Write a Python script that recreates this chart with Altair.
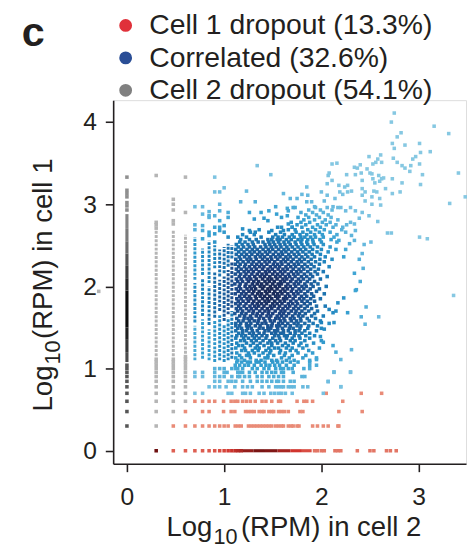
import altair as alt
import pandas as pd

INK = "#231f20"
FONT = "Liberation Sans"

# ---------------- text ----------------
legend_labels = ["Cell 1 dropout (13.3%)", "Correlated (32.6%)", "Cell 2 dropout (54.1%)"]
legend_colors = ["#e0313a", "#2a4e96", "#808080"]
panel_label = "c"
x_title = ["Log", "10", "(RPM) in cell 2"]
y_title = ["Log", "10", "(RPM) in cell 1"]
x_ticks = [0, 1, 2, 3]
y_ticks = [0, 1, 2, 3, 4]

# ---------------- gray: cell 2 dropout ----------------
# (log10 RPM in cell 2, [log10 RPM in cell 1, ...]) single points
gray_points = [
    (0.0,   [0.301, 0.477, 0.602, 0.699, 0.778, 0.845, 0.903, 0.954, 1.0, 1.041,
             2.93, 2.98, 3.02, 3.09, 3.13, 3.17, 3.33]),
    (0.301, [0.301, 0.477, 0.602, 0.699, 0.778, 0.845, 0.903, 0.954, 1.0, 1.041, 1.079, 1.114,
             2.71, 2.75, 2.78, 3.35]),
    (0.477, [0.477, 0.602, 0.699, 0.778, 0.845, 0.903, 0.954, 1.0, 1.041, 1.079, 1.114,
             2.76, 2.80, 2.93, 3.0, 3.06]),
    (0.602, [0.602, 0.699, 0.778, 0.845, 0.903, 0.954, 1.0, 1.041, 1.079, 1.114, 1.146,
             2.90, 3.33]),
    (-0.29, [1.94]),
]
# dense stretches of the gray columns
gray_strip_x  = [0.0, 0.0, 0.0, 0.0, 0.0, 0.0, 0.0, 0.0, 0.0, 0.0, 0.301, 0.477, 0.602]
gray_strip_y0 = [1.079, 1.20, 1.35, 1.50, 1.95, 2.10, 2.25, 2.40, 2.55, 2.70, 1.15, 1.15, 1.18]
gray_strip_y1 = [1.20, 1.35, 1.50, 1.95, 2.10, 2.25, 2.40, 2.55, 2.70, 2.88, 2.70, 2.68, 2.63]

# ---------------- red: cell 1 dropout ----------------
# (log10 RPM in cell 1, [log10 RPM in cell 2, ...])
red_rows = [
    (0.0,   [0.301, 0.477, 0.602, 0.699, 0.778, 0.845, 0.903, 0.954, 1.0, 1.041, 1.079, 1.114,
             1.146, 1.176, 1.93, 1.96, 2.00, 2.03, 2.14, 2.17, 2.20, 2.37, 2.50, 2.54, 2.67,
             2.71, 2.77]),
    (0.301, [0.477, 0.602, 0.699, 0.778, 0.845, 0.903, 0.954, 1.0, 1.041, 1.114, 1.146, 1.176,
             1.25, 1.28, 1.31, 1.34, 1.37, 1.40, 1.43, 1.46, 1.49, 1.53, 1.56, 1.59, 1.61,
             1.66, 1.69, 1.71, 1.75, 1.77, 1.91, 1.96, 2.02, 2.07, 2.17, 2.18]),
    (0.477, [0.602, 0.778, 0.845, 0.994, 1.072, 1.11, 1.22, 1.25, 1.28, 1.31, 1.36, 1.39,
             1.41, 1.46, 1.49, 1.51, 1.56, 1.59, 1.62, 1.66, 1.78, 1.81, 2.18, 2.42]),
    (0.602, [0.699, 0.778, 0.845, 0.903, 0.994, 1.072, 1.11, 1.14, 1.19, 1.23, 1.27, 1.32,
             1.39, 1.43, 1.49, 1.56, 1.58, 1.75, 1.82, 1.85, 1.91, 2.22]),
    (0.699, [2.05, 2.41, 2.62]),
]
# dense stretch of the bottom row (cell 1 = 0)
red_strip_x0 = [1.19, 1.30, 1.42, 1.55, 1.68, 1.80]
red_strip_x1 = [1.30, 1.42, 1.55, 1.68, 1.80, 1.90]

# ---------------- blue: correlated ----------------
# dashed columns of low counts in cell 2
blue_strip_x  = [0.699, 0.699, 0.699, 0.778, 0.778, 0.778, 0.845, 0.845, 0.845,
                 0.903, 0.903, 0.903, 0.954, 0.954, 0.954, 1.0, 1.0, 1.0,
                 1.041, 1.041, 1.041, 1.079, 1.079, 1.079]
blue_strip_y0 = [1.10, 1.56, 2.08, 1.12, 1.64, 2.14, 1.10, 1.53, 2.04,
                 1.08, 1.62, 2.22, 1.10, 1.70, 2.12, 1.08, 1.58, 2.16,
                 1.10, 1.66, 2.24, 1.12, 1.74, 2.34]
blue_strip_y1 = [1.52, 2.04, 2.60, 1.60, 2.10, 2.46, 1.48, 2.00, 2.56,
                 1.58, 2.18, 2.50, 1.66, 2.08, 2.45, 1.54, 2.12, 2.48,
                 1.62, 2.20, 2.52, 1.70, 2.30, 2.50]
# single points above those columns: (cell 2, [cell 1 ...])
blue_col_points = [
    (0.699, [2.69, 2.75, 2.97]),
    (0.778, [2.58, 2.68, 2.74, 2.88, 2.97]),
    (0.845, [2.62, 2.66, 2.84, 2.86, 2.91]),
    (0.903, [2.54, 2.64, 2.72, 2.86, 3.15, 3.33]),
    (0.954, [2.68, 2.72, 2.80, 2.92, 3.00, 3.15]),
    (1.0,   [2.66, 2.74, 3.20]),
    (1.041, [2.60, 2.84, 2.90]),
]
# rows of the cloud: (cell 1, [cell 2 ...])
blue_rows = [
    (0.699, [0.699, 0.778, 1.041, 1.079, 1.19, 1.22, 1.27, 1.36, 1.41, 1.48, 1.52, 1.56, 1.59, 1.63, 1.70, 2.02]),
    (0.778, [0.845, 0.903, 0.954, 1.02, 1.11, 1.19, 1.24, 1.29, 1.39, 1.46, 1.53, 1.56, 1.59, 1.61, 1.66, 1.69, 1.72, 1.81, 1.86, 2.20]),
    (0.845, [0.903, 0.954, 1.041, 1.079, 1.12, 1.19, 1.27, 1.34, 1.39, 1.44, 1.49, 1.54, 1.56, 1.61, 1.68, 1.72, 2.07]),
    (0.903, [0.699, 0.778, 0.903, 0.954, 1.0, 1.079, 1.14, 1.16, 1.21, 1.26, 1.34, 1.39, 1.46, 1.51, 1.56, 1.61, 1.80, 1.83]),
    (0.954, [0.699, 0.778, 0.903, 1.0, 1.03, 1.14, 1.16, 1.19, 1.26, 1.32, 1.39, 1.44, 1.49, 1.53, 1.59, 1.61, 1.71, 2.13, 2.30]),
    (1.0,   [0.903, 0.954, 1.0, 1.079, 1.12, 1.14, 1.19, 1.29, 1.34, 1.41, 1.46, 1.53, 1.58, 1.61, 1.66, 1.70, 1.82, 1.88]),
    (1.041, [1.114, 1.16, 1.21, 1.25, 1.31, 1.38, 1.43, 1.47, 1.52, 1.57, 1.64, 1.72, 1.95]),
    (1.079, [1.13, 1.18, 1.24, 1.27, 1.33, 1.36, 1.42, 1.50, 1.55, 1.60, 1.68, 1.76, 1.88]),
    (1.10, [1.14, 1.21, 1.33, 1.38, 1.49, 1.54, 1.64, 1.72, 1.88]),
    (1.13, [1.12, 1.18, 1.27, 1.42, 1.45, 1.59, 1.67, 1.81, 1.95]),
    (1.16, [1.16, 1.23, 1.26, 1.36, 1.45, 1.51, 1.62, 1.70, 1.84]),
    (1.19, [1.13, 1.25, 1.31, 1.40, 1.47, 1.57, 1.63, 1.76, 1.91]),
    (1.22, [1.18, 1.22, 1.29, 1.35, 1.43, 1.48, 1.58, 1.68, 1.74, 1.87]),
    (1.25, [1.12, 1.21, 1.32, 1.36, 1.46, 1.52, 1.56, 1.64, 1.70, 1.81, 1.98]),
    (1.28, [1.15, 1.19, 1.27, 1.34, 1.41, 1.49, 1.60, 1.66, 1.77, 1.85]),
    (1.31, [1.13, 1.23, 1.30, 1.37, 1.45, 1.49, 1.55, 1.63, 1.71, 1.79, 1.92]),
    (1.34, [1.17, 1.21, 1.28, 1.33, 1.40, 1.47, 1.53, 1.58, 1.68, 1.73, 1.83, 2.00]),
    (1.37, [1.12, 1.20, 1.25, 1.31, 1.36, 1.43, 1.50, 1.57, 1.64, 1.70, 1.78, 1.88]),
    (1.40, [1.13, 1.18, 1.22, 1.29, 1.33, 1.39, 1.44, 1.52, 1.56, 1.62, 1.65, 1.72, 1.77, 1.84, 1.93]),
    (1.43, [1.15, 1.19, 1.26, 1.30, 1.36, 1.41, 1.49, 1.53, 1.58, 1.61, 1.68, 1.73, 1.80, 1.88]),
    (1.46, [1.12, 1.19, 1.23, 1.29, 1.34, 1.42, 1.46, 1.52, 1.55, 1.61, 1.66, 1.73, 1.77, 1.83, 1.95]),
    (1.49, [1.14, 1.18, 1.24, 1.28, 1.36, 1.40, 1.45, 1.48, 1.55, 1.60, 1.67, 1.71, 1.78, 1.86, 2.00]),
    (1.52, [1.12, 1.16, 1.23, 1.26, 1.32, 1.37, 1.45, 1.49, 1.54, 1.57, 1.63, 1.68, 1.75, 1.79, 1.87, 1.96]),
    (1.55, [1.12, 1.17, 1.23, 1.275, 1.345, 1.39, 1.43, 1.495, 1.56, 1.60, 1.655, 1.72, 1.76, 1.83, 1.915]),
    (1.58, [1.15, 1.195, 1.26, 1.31, 1.35, 1.42, 1.475, 1.515, 1.58, 1.625, 1.69, 1.745, 1.79, 1.875, 1.99]),
    (1.61, [1.13, 1.205, 1.245, 1.285, 1.36, 1.405, 1.465, 1.53, 1.565, 1.615, 1.68, 1.72, 1.785, 1.855, 1.94]),
    (1.64, [1.16, 1.21, 1.27, 1.33, 1.375, 1.44, 1.48, 1.545, 1.59, 1.64, 1.705, 1.765, 1.81, 1.90, 2.02]),
    (1.67, [1.11, 1.18, 1.225, 1.295, 1.34, 1.395, 1.455, 1.50, 1.57, 1.61, 1.665, 1.73, 1.775, 1.835, 1.93]),
    (1.70, [1.14, 1.19, 1.255, 1.30, 1.365, 1.42, 1.46, 1.525, 1.585, 1.625, 1.69, 1.74, 1.80, 1.87, 1.96]),
    (1.73, [1.125, 1.17, 1.23, 1.28, 1.33, 1.39, 1.445, 1.49, 1.555, 1.605, 1.655, 1.715, 1.765, 1.83, 1.90]),
    (1.76, [1.15, 1.205, 1.265, 1.315, 1.355, 1.41, 1.475, 1.515, 1.57, 1.63, 1.675, 1.735, 1.79, 1.855, 1.95, 2.04]),
    (1.79, [1.12, 1.165, 1.225, 1.29, 1.34, 1.385, 1.435, 1.50, 1.545, 1.595, 1.66, 1.705, 1.755, 1.825, 1.885]),
    (1.82, [1.145, 1.195, 1.25, 1.305, 1.36, 1.42, 1.46, 1.52, 1.575, 1.62, 1.685, 1.74, 1.80, 1.855, 1.93]),
    (1.85, [1.13, 1.175, 1.235, 1.275, 1.33, 1.395, 1.445, 1.49, 1.55, 1.61, 1.645, 1.71, 1.775, 1.82, 1.89, 1.99]),
    (1.88, [1.16, 1.21, 1.26, 1.32, 1.37, 1.415, 1.47, 1.53, 1.565, 1.63, 1.675, 1.73, 1.795, 1.85, 1.92]),
    (1.91, [1.115, 1.18, 1.225, 1.29, 1.345, 1.385, 1.44, 1.505, 1.55, 1.595, 1.655, 1.715, 1.76, 1.83, 1.90, 2.03]),
    (1.94, [1.145, 1.20, 1.255, 1.305, 1.36, 1.425, 1.465, 1.52, 1.58, 1.625, 1.69, 1.745, 1.79, 1.86, 1.95]),
    (1.97, [1.125, 1.17, 1.235, 1.28, 1.325, 1.395, 1.45, 1.49, 1.545, 1.605, 1.65, 1.705, 1.77, 1.82, 1.885, 1.98]),
    (2.00, [1.155, 1.215, 1.265, 1.31, 1.37, 1.41, 1.475, 1.525, 1.57, 1.635, 1.68, 1.735, 1.80, 1.845, 1.915, 2.05]),
    (2.03, [1.11, 1.165, 1.225, 1.29, 1.34, 1.385, 1.44, 1.50, 1.555, 1.59, 1.655, 1.72, 1.765, 1.83, 1.895, 1.965]),
    (2.06, [1.14, 1.19, 1.25, 1.305, 1.355, 1.42, 1.465, 1.515, 1.58, 1.62, 1.685, 1.74, 1.785, 1.855, 1.93]),
    (2.09, [1.125, 1.175, 1.235, 1.275, 1.33, 1.395, 1.45, 1.49, 1.545, 1.605, 1.645, 1.70, 1.765, 1.815, 1.88, 1.99]),
    (2.12, [1.155, 1.21, 1.26, 1.315, 1.37, 1.415, 1.47, 1.53, 1.575, 1.63, 1.675, 1.73, 1.795, 1.85, 1.91, 2.06]),
    (2.15, [1.115, 1.17, 1.225, 1.285, 1.34, 1.39, 1.435, 1.50, 1.55, 1.60, 1.66, 1.715, 1.76, 1.825, 1.89, 1.96]),
    (2.18, [1.145, 1.205, 1.25, 1.30, 1.36, 1.425, 1.465, 1.52, 1.58, 1.625, 1.69, 1.745, 1.79, 1.86, 1.935, 2.02]),
    (2.21, [1.125, 1.175, 1.23, 1.28, 1.33, 1.395, 1.45, 1.495, 1.555, 1.605, 1.65, 1.71, 1.77, 1.82, 1.89, 1.97]),
    (2.24, [1.15, 1.21, 1.26, 1.315, 1.365, 1.41, 1.475, 1.525, 1.57, 1.635, 1.685, 1.735, 1.80, 1.855, 1.925, 2.08]),
    (2.27, [1.115, 1.165, 1.22, 1.285, 1.335, 1.385, 1.44, 1.505, 1.55, 1.595, 1.66, 1.72, 1.765, 1.83, 1.895, 1.98]),
    (2.30, [1.14, 1.195, 1.25, 1.30, 1.36, 1.42, 1.465, 1.52, 1.585, 1.63, 1.69, 1.75, 1.795, 1.865, 1.94, 2.03]),
    (2.33, [1.12, 1.17, 1.235, 1.275, 1.33, 1.395, 1.445, 1.49, 1.55, 1.61, 1.655, 1.71, 1.775, 1.825, 1.895, 1.985, 2.11]),
    (2.36, [1.155, 1.21, 1.26, 1.32, 1.37, 1.415, 1.48, 1.53, 1.575, 1.635, 1.68, 1.74, 1.80, 1.86, 1.93, 2.04]),
    (2.39, [1.125, 1.18, 1.23, 1.285, 1.345, 1.39, 1.445, 1.505, 1.56, 1.60, 1.665, 1.72, 1.77, 1.84, 1.905, 1.99]),
    (2.42, [1.15, 1.205, 1.265, 1.31, 1.365, 1.425, 1.47, 1.53, 1.59, 1.635, 1.695, 1.755, 1.81, 1.875, 1.955, 2.07]),
    (2.45, [1.12, 1.175, 1.235, 1.29, 1.34, 1.40, 1.455, 1.50, 1.56, 1.615, 1.66, 1.725, 1.785, 1.84, 1.91, 2.00, 2.15]),
    (2.48, [1.145, 1.20, 1.26, 1.315, 1.375, 1.43, 1.485, 1.535, 1.585, 1.645, 1.70, 1.76, 1.82, 1.885, 1.96, 2.09]),
    (2.51, [1.125, 1.185, 1.245, 1.30, 1.42, 1.47, 1.52, 1.575, 1.625, 1.68, 1.74, 1.80, 1.86, 1.925, 2.02]),
    (2.54, [1.16, 1.215, 1.29, 1.35, 1.40, 1.46, 1.505, 1.56, 1.615, 1.665, 1.73, 1.79, 1.85, 1.915, 2.00, 2.16]),
    (2.57, [1.17, 1.26, 1.33, 1.45, 1.49, 1.545, 1.575, 1.64, 1.69, 1.76, 1.80, 1.86, 1.91, 1.985, 2.10]),
    (2.60, [1.14, 1.23, 1.38, 1.50, 1.555, 1.60, 1.67, 1.72, 1.79, 1.83, 1.89, 1.94, 2.02, 2.13]),
    (2.63, [1.19, 1.31, 1.53, 1.62, 1.70, 1.78, 1.85, 1.93, 2.01, 2.16]),
    (2.66, [1.27, 1.46, 1.58, 1.74, 1.81, 1.89, 1.98, 2.09]),
    (2.69, [1.36, 1.66, 1.73, 1.86, 1.94, 2.03, 2.21]),
    (2.72, [1.59, 1.70, 1.80, 1.91, 1.99, 2.12]),
    (2.75, [1.75, 1.84, 1.96, 2.05, 2.15]),
    (2.78, [1.69, 1.79, 1.88, 2.01, 2.09]),
    (2.81, [1.82, 1.93, 2.04, 2.17]),
    (2.84, [1.76, 1.87, 1.98, 2.10]),
    (2.87, [1.84, 1.95, 2.07]),
    (2.90, [1.79, 1.91, 2.02]),
    (2.93, [1.87, 1.99, 2.11]),
    (2.96, [1.94, 2.06]),
]
# scattered points around the cloud
blue_sparse_x = [1.34, 1.48, 1.23, 1.61, 1.68, 1.17, 1.32, 1.26, 1.38, 1.46, 1.53, 1.54, 1.66, 1.71,
                 1.31, 1.41, 1.45, 1.59, 1.65, 1.19, 1.26, 1.32, 1.49, 1.55, 1.61, 1.66, 1.70,
                 2.75, 2.72, 3.16, 3.31, 2.82, 2.78, 2.73, 2.86, 3.01, 2.75, 3.12, 3.02, 2.49, 2.61,
                 2.58, 2.74, 2.97, 2.94, 2.78, 2.56, 2.53, 2.62, 2.16, 2.11, 2.40, 2.34, 2.37, 2.47,
                 2.83, 2.92, 3.01, 2.86, 2.91, 3.41, 2.08, 2.26, 2.35, 2.41, 2.50, 2.52, 2.59, 2.64,
                 3.04, 2.07, 2.11, 2.06, 1.85, 2.18, 2.24, 2.27, 2.42, 2.53, 2.55, 2.60, 2.62, 2.73,
                 2.83, 3.02, 2.42, 2.45, 2.54, 2.57, 2.81, 2.73, 2.66, 1.75, 1.80, 1.86, 2.00,
                 2.06, 2.14, 2.19, 2.22, 2.27, 2.31, 2.42, 2.52, 2.60, 2.45, 2.61, 2.52, 3.32, 3.48,
                 1.65, 1.73, 1.85, 1.90, 1.93, 2.03, 2.12, 2.17, 2.20, 2.25, 2.30, 2.35,
                 2.42, 2.49, 2.39, 2.30, 2.58, 2.22, 2.26, 2.34, 2.35, 2.31, 2.25, 2.18, 2.34, 2.29,
                 2.25, 2.68, 2.72, 3.01, 3.09, 2.44, 2.51, 2.42, 2.39, 2.23, 2.34, 2.43, 2.40, 2.36,
                 2.35, 2.23, 2.46, 2.27, 2.17, 2.15, 2.08, 2.12, 2.45, 2.13, 2.08, 2.00, 2.03, 1.99,
                 2.02, 2.12, 2.15, 2.31, 2.20, 1.95, 1.88, 2.13, 2.30, 2.07, 2.20, 3.36, 2.59, 2.41]
blue_sparse_y = [3.47, 3.36, 3.16, 3.13, 3.07, 3.03, 3.03, 2.90, 2.90, 2.92, 2.97, 2.88, 2.92, 2.96,
                 2.82, 2.83, 2.80, 2.84, 2.86, 2.70, 2.68, 2.66, 2.68, 2.72, 2.68, 2.76, 2.72,
                 4.11, 4.00, 3.95, 3.86, 3.87, 3.82, 3.74, 3.72, 3.74, 3.68, 3.64, 3.63, 3.58, 3.60,
                 3.55, 3.56, 3.58, 3.55, 3.51, 3.51, 3.49, 3.51, 3.50, 3.49, 3.48, 3.45, 3.44, 3.43,
                 3.47, 3.47, 3.49, 3.44, 3.40, 3.38, 3.38, 3.36, 3.36, 3.38, 3.38, 3.37, 3.35, 3.32,
                 3.36, 3.35, 3.29, 3.25, 3.21, 3.23, 3.21, 3.23, 3.29, 3.31, 3.26, 3.28, 3.31, 3.31,
                 3.26, 3.24, 3.19, 3.15, 3.16, 3.15, 3.15, 3.13, 3.19, 3.07, 3.12, 3.11, 3.15,
                 3.11, 3.07, 3.15, 3.12, 3.15, 3.16, 3.11, 3.09, 3.07, 3.04, 2.99, 3.00, 3.01, 3.09,
                 2.95, 2.96, 3.03, 3.03, 2.97, 3.04, 2.97, 2.96, 2.96, 2.92, 2.96, 2.92,
                 2.90, 2.86, 2.83, 2.78, 2.79, 2.72, 2.75, 2.76, 2.68, 2.62, 2.66, 2.56, 2.56, 2.52,
                 2.45, 2.65, 2.65, 2.60, 2.58, 2.51, 2.54, 2.40, 2.33, 2.36, 2.16, 2.22, 2.06, 1.96,
                 1.95, 1.86, 1.75, 1.68, 1.80, 1.70, 1.72, 1.68, 1.54, 1.56, 1.55, 1.56, 1.48, 1.39,
                 1.32, 1.28, 1.20, 1.23, 1.11, 1.11, 1.04, 0.96, 0.96, 0.84, 0.78, 1.89, 1.63, 1.63]

# ---------------- tables ----------------
pt_rows = []
for xv, ys_ in gray_points:
    for yv in ys_:
        pt_rows.append({"x": xv, "y": yv, "grp": "gray"})
for yv, xs_ in red_rows:
    for xv in xs_:
        pt_rows.append({"x": xv, "y": yv, "grp": "red"})
for xv, ys_ in blue_col_points:
    for yv in ys_:
        pt_rows.append({"x": xv, "y": yv, "grp": "blue"})
for yv, xs_ in blue_rows:
    for xv in xs_:
        pt_rows.append({"x": xv, "y": yv, "grp": "blue"})
for xv, yv in zip(blue_sparse_x, blue_sparse_y):
    pt_rows.append({"x": xv, "y": yv, "grp": "blue"})
points = pd.DataFrame(pt_rows)
points["mx"] = points["x"]
points["my"] = points["y"]

st_rows = []
for xv, a, b in zip(gray_strip_x, gray_strip_y0, gray_strip_y1):
    st_rows.append({"x": xv, "x2": xv, "y": a, "y2": b, "mx": xv, "my": (a + b) / 2, "grp": "gray"})
for xv, a, b in zip(blue_strip_x, blue_strip_y0, blue_strip_y1):
    st_rows.append({"x": xv, "x2": xv, "y": a, "y2": b, "mx": xv, "my": (a + b) / 2, "grp": "blue"})
for a, b in zip(red_strip_x0, red_strip_x1):
    st_rows.append({"x": a, "x2": b, "y": 0.0, "y2": 0.0, "mx": (a + b) / 2, "my": 0.0, "grp": "red"})
strips = pd.DataFrame(st_rows)

# ---------------- styling ----------------
SHADE = (
    "datum.grp == 'gray' ? (datum.mx == 0 ? (datum.my < 1.06 ? 0.6 : "
    "0.28 + 0.72 * exp(-pow((datum.my - 1.7) / 0.7, 2))) : 0.08) : "
    "datum.grp == 'red' ? (datum.my == 0 ? (datum.mx < 0.35 ? 5 : (datum.mx <= 1.9 ? "
    "4.3 + 0.65 * exp(-pow((datum.mx - 1.4) / 0.32, 2)) : 4.2)) : 4.1) : "
    "2 + exp(-(pow((datum.mx - 1.45) / 0.7, 2) + pow((datum.my - 1.95) / 0.75, 2)))"
)
cscale = alt.Scale(
    domain=[0, 1, 2, 2.05, 2.2, 2.4, 2.65, 2.88, 3, 4, 4.5, 5],
    range=["#c4c4c4", "#0d0d0d",
           "#86c8e2", "#6fbde0", "#3aa2d2", "#1f84be", "#1c5d9c", "#1d3f7e", "#1b2a58",
           "#eea089", "#d3362f", "#6e1010"],
    interpolate="rgb",
)
xs = alt.Scale(domain=[-0.1416, 3.488], nice=False, zero=False)
ys = alt.Scale(domain=[-0.159, 4.267], nice=False, zero=False)
axis_common = dict(grid=False, domainColor=INK, domainWidth=1.6, tickColor=INK, tickWidth=1.6,
                   tickSize=8, labelFont=FONT, labelFontSize=25, labelColor=INK,
                   labelFlush=False, labelOverlap=False, title=None)
xaxis = alt.Axis(values=x_ticks, labelPadding=13, **axis_common)
yaxis = alt.Axis(values=y_ticks, labelPadding=9, **axis_common)


def X():
    return alt.X("x:Q", scale=xs, axis=xaxis)


def Y():
    return alt.Y("y:Q", scale=ys, axis=yaxis)


COL = alt.Color("c:Q", scale=cscale, legend=None)
SOLID = "datum.grp == 'red' || (datum.grp == 'gray' && datum.x == 0)"

solid_strips = alt.Chart(strips).transform_filter(SOLID).transform_calculate(c=SHADE).mark_rule(
    strokeWidth=3.2, strokeCap="butt").encode(x=X(), x2="x2:Q", y=Y(), y2="y2:Q", color=COL)
dashed_strips = alt.Chart(strips).transform_filter("!(" + SOLID + ")").transform_calculate(c=SHADE).mark_rule(
    strokeWidth=3, strokeCap="butt", strokeDash=[3, 1.3]).encode(x=X(), x2="x2:Q", y=Y(), y2="y2:Q", color=COL)
dots = alt.Chart(points).transform_calculate(c=SHADE).mark_square(size=13, opacity=1).encode(
    x=X(), y=Y(), color=COL)

one = pd.DataFrame({"k": [0]})
layers = [solid_strips, dashed_strips, dots]

for i, (lab, colr) in enumerate(zip(legend_labels, legend_colors)):
    layers.append(alt.Chart(one).mark_circle(size=170, opacity=1, color=colr).encode(
        x=alt.value(12.7), y=alt.value(-76 + 33 * i)))
    layers.append(alt.Chart(one).mark_text(text=lab, align="left", baseline="alphabetic", font=FONT,
                                           fontSize=28.8, color=INK).encode(
        x=alt.value(36.7), y=alt.value(-67 + 33 * i)))

layers.append(alt.Chart(one).mark_text(text=panel_label, align="left", baseline="alphabetic", font=FONT,
                                       fontSize=42, fontWeight="bold", color=INK).encode(
    x=alt.value(-93), y=alt.value(-55)))

# x axis title with subscript
layers.append(alt.Chart(one).mark_text(text=x_title[0], align="right", baseline="alphabetic", font=FONT,
                                       fontSize=28, color=INK).encode(x=alt.value(101), y=alt.value(443)))
layers.append(alt.Chart(one).mark_text(text=x_title[1], align="left", baseline="alphabetic", font=FONT,
                                       fontSize=22, color=INK).encode(x=alt.value(102), y=alt.value(452)))
layers.append(alt.Chart(one).mark_text(text=x_title[2], align="left", baseline="alphabetic", font=FONT,
                                       fontSize=28, color=INK).encode(x=alt.value(130), y=alt.value(443)))
# y axis title with subscript
layers.append(alt.Chart(one).mark_text(text=y_title[0], align="right", baseline="alphabetic", font=FONT,
                                       fontSize=28, angle=270, color=INK).encode(x=alt.value(-62), y=alt.value(270)))
layers.append(alt.Chart(one).mark_text(text=y_title[1], align="left", baseline="alphabetic", font=FONT,
                                       fontSize=22, angle=270, color=INK).encode(x=alt.value(-54), y=alt.value(269)))
layers.append(alt.Chart(one).mark_text(text=y_title[2], align="left", baseline="alphabetic", font=FONT,
                                       fontSize=28, angle=270, color=INK).encode(x=alt.value(-62), y=alt.value(243)))

chart = alt.layer(*layers).properties(
    width=359, height=370,
    padding={"left": 107, "top": 89, "right": 1, "bottom": 86},
    autosize=alt.AutoSizeParams(type="none"),
).configure_view(stroke=None).configure(background="white")

chart.save("out.html", embed_options={"renderer": "svg", "actions": False})
